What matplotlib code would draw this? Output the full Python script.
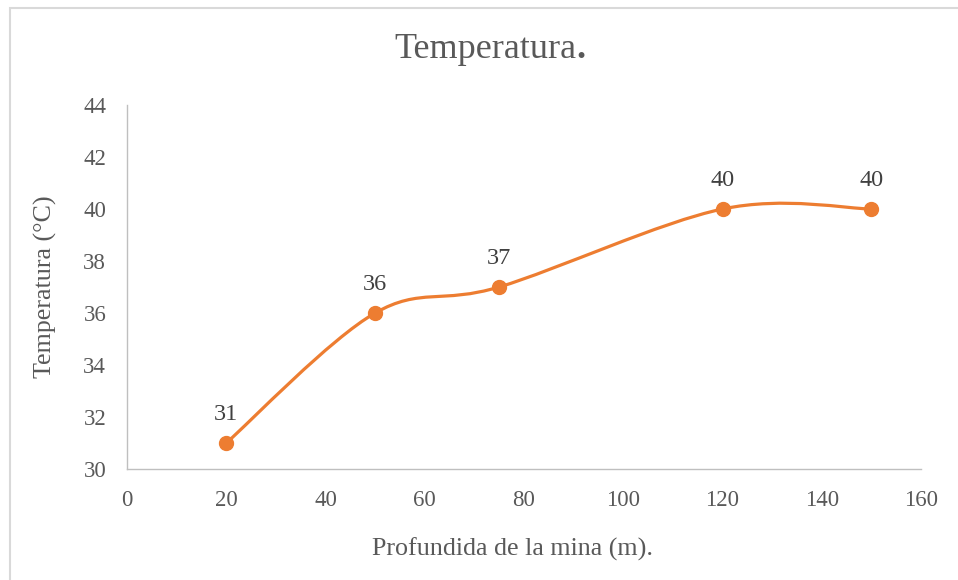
import numpy as np
import matplotlib.pyplot as plt
from matplotlib.path import Path
from matplotlib.patches import PathPatch, Rectangle

# data
depth = [20, 50, 75, 120, 150]
temp = [31, 36, 37, 40, 40]
xticks = [0, 20, 40, 60, 80, 100, 120, 140, 160]
yticks = [30, 32, 34, 36, 38, 40, 42, 44]

ORANGE = '#ED7D31'
GREY = '#595959'

plt.rcParams['font.family'] = ['Liberation Serif', 'DejaVu Serif']

fig = plt.figure(figsize=(9.58, 5.8), dpi=100)
ax = fig.add_axes([127 / 958, 111 / 580, 794 / 958, 364 / 580])

# excel-like smoothed line (catmull-rom as cubic bezier)
pts = np.column_stack([depth, temp]).astype(float)
ext = np.vstack([pts[0], pts, pts[-1]])
verts = [tuple(pts[0])]
codes = [Path.MOVETO]
for i in range(1, len(ext) - 2):
    p0, p1, p2, p3 = ext[i - 1], ext[i], ext[i + 1], ext[i + 2]
    c1 = p1 + (p2 - p0) / 6
    c2 = p2 - (p3 - p1) / 6
    verts += [tuple(c1), tuple(c2), tuple(p2)]
    codes += [Path.CURVE4] * 3
ax.add_patch(PathPatch(Path(verts, codes), facecolor='none', edgecolor=ORANGE,
                       lw=2.3, capstyle='round', zorder=2))
ax.plot(depth, temp, 'o', color=ORANGE, ms=10, zorder=3)

for x, y in zip(depth, temp):
    ax.annotate(str(y), (x, y), xytext=(0, 13), textcoords='offset points',
                ha='center', va='bottom', fontsize=17.5, color='#404040')

ax.set_xlim(0, 160)
ax.set_ylim(30, 44)
ax.set_xticks(xticks)
ax.set_yticks(yticks)
ax.tick_params(length=0, labelsize=16.5, labelcolor=GREY, pad=15)
for s in ['top', 'right']:
    ax.spines[s].set_visible(False)
for s in ['left', 'bottom']:
    ax.spines[s].set_color('#BFBFBF')
    ax.spines[s].set_linewidth(1)

t = fig.text(485 / 958, 1 - 50 / 580, 'Temperatura', ha='center', va='center',
             fontsize=26, color=GREY)
ax.annotate('.', xy=(1, 0), xycoords=t, ha='left', va='bottom',
            fontsize=26, color=GREY, weight='bold')
fig.text(513 / 958, 1 - 549 / 580, 'Profundida de la mina (m).', ha='center',
         va='center', fontsize=18.7, color=GREY)
fig.text(45 / 958, 1 - 287 / 580, 'Temperatura (°C)', ha='center', va='center',
         rotation=90, fontsize=18.7, color=GREY)

# chart border
fig.patches.append(Rectangle((9.5 / 958, -0.1), 1.1, 1.1 - 7.5 / 580,
                             transform=fig.transFigure, fill=False,
                             edgecolor='#D9D9D9', lw=1.5))

fig.savefig('out.png', dpi=100)
